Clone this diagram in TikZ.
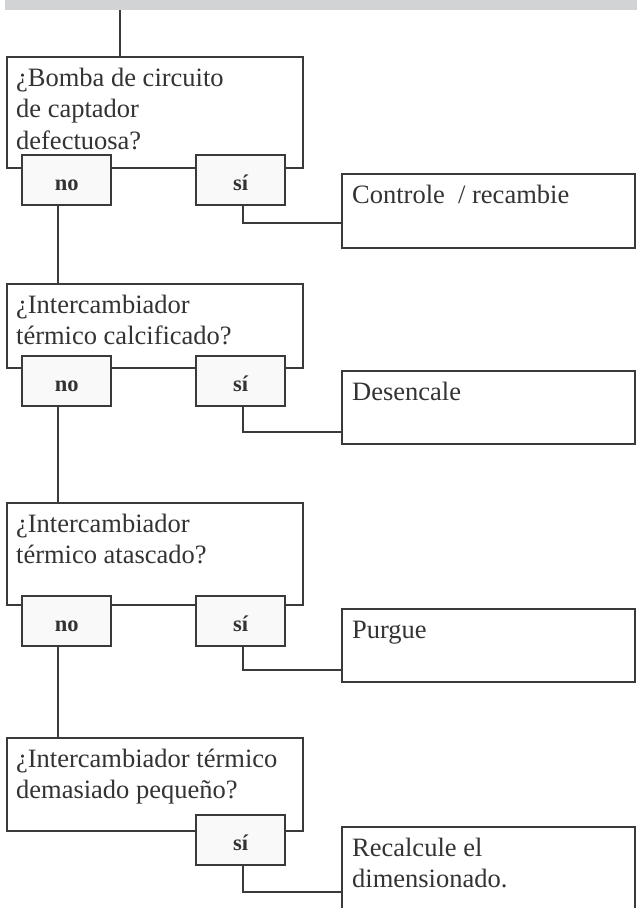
\documentclass[tikz,border=0pt]{standalone}
\usepackage{fontspec}
\setmainfont{Liberation Serif}
\definecolor{linegray}{HTML}{3A3A3A}
\definecolor{textgray}{HTML}{333333}
\definecolor{bandgray}{HTML}{D1D3D4}
\definecolor{answerfill}{HTML}{F9F9F9}
% text block of a box: height, width, lines
\newcommand{\boxlines}[3]{\parbox[t][#1][t]{#2}{\raggedright\rule{0pt}{29pt}#3}}

\begin{document}
\begin{tikzpicture}[x=1pt, y=-1pt,
    question/.style={draw=linegray, line width=2.3pt, fill=white, anchor=north west,
        inner xsep=9pt, inner ysep=0pt, text=textgray, font=\fontsize{26.5}{31.5}\selectfont},
    action/.style={question, inner xsep=10pt},
    answer/.style={draw=linegray, line width=2.3pt, fill=answerfill, anchor=north west,
        minimum width=89pt, minimum height=50pt, inner sep=0pt, text=textgray,
        text height=20pt, text depth=0pt, font=\fontsize{22.5}{26}\selectfont\bfseries},
    link/.style={draw=linegray, line width=2.3pt}]
  \useasboundingbox (0,0) rectangle (637,908);
  \node[fill=bandgray, anchor=north west, minimum width=632pt, minimum height=10pt,
        inner sep=0pt] (band) at (5,0) {};
  \coordinate (feed) at (120,10);

  % first question
  \node[question] (q1) at (6,56) {\boxlines{111pt}{278pt}{¿Bomba de circuito\\de captador\\defectuosa?}};
  \node[answer] (no1) at (21,154) {no};
  \node[answer] (si1) at (195,154) {sí};
  \node[action] (act1) at (341,173) {\boxlines{74pt}{273pt}{Controle~~/ recambie}};

  % second question
  \node[question] (q2) at (6,283) {\boxlines{84pt}{278pt}{¿Intercambiador\\térmico calcificado?}};
  \node[answer] (no2) at (21,355) {no};
  \node[answer] (si2) at (195,355) {sí};
  \node[action] (act2) at (341,370) {\boxlines{73pt}{273pt}{Desencale}};

  % third question
  \node[question] (q3) at (6,502) {\boxlines{102pt}{278pt}{¿Intercambiador\\térmico atascado?}};
  \node[answer] (no3) at (21,595) {no};
  \node[answer] (si3) at (195,595) {sí};
  \node[action] (act3) at (341,608) {\boxlines{73pt}{273pt}{Purgue}};

  % last question
  \node[question] (q4) at (6,737) {\boxlines{93pt}{278pt}{¿Intercambiador térmico\\demasiado pequeño?}};
  \node[answer] (si4) at (195,814) {sí};
  \node[action] (act4) at (341,826) {\boxlines{100pt}{273pt}{Recalcule el\\dimensionado.}};

  \draw[link] (feed) -- (feed |- q1.north);
  \draw[link] ([xshift=-9pt]no1.south) coordinate (n1) -- (n1 |- q2.north);
  \draw[link] ([xshift=-9pt]no2.south) coordinate (n2) -- (n2 |- q3.north);
  \draw[link] ([xshift=-9pt]no3.south) coordinate (n3) -- (n3 |- q4.north);
  \draw[link] ([xshift=2.5pt]si1.south) |- ([yshift=-50pt]act1.north west);
  \draw[link] ([xshift=2.5pt]si2.south) |- ([yshift=-62pt]act2.north west);
  \draw[link] ([xshift=2.5pt]si3.south) |- ([yshift=-62pt]act3.north west);
  \draw[link] ([xshift=2.5pt]si4.south) |- ([yshift=-66pt]act4.north west);
\end{tikzpicture}
\end{document}
